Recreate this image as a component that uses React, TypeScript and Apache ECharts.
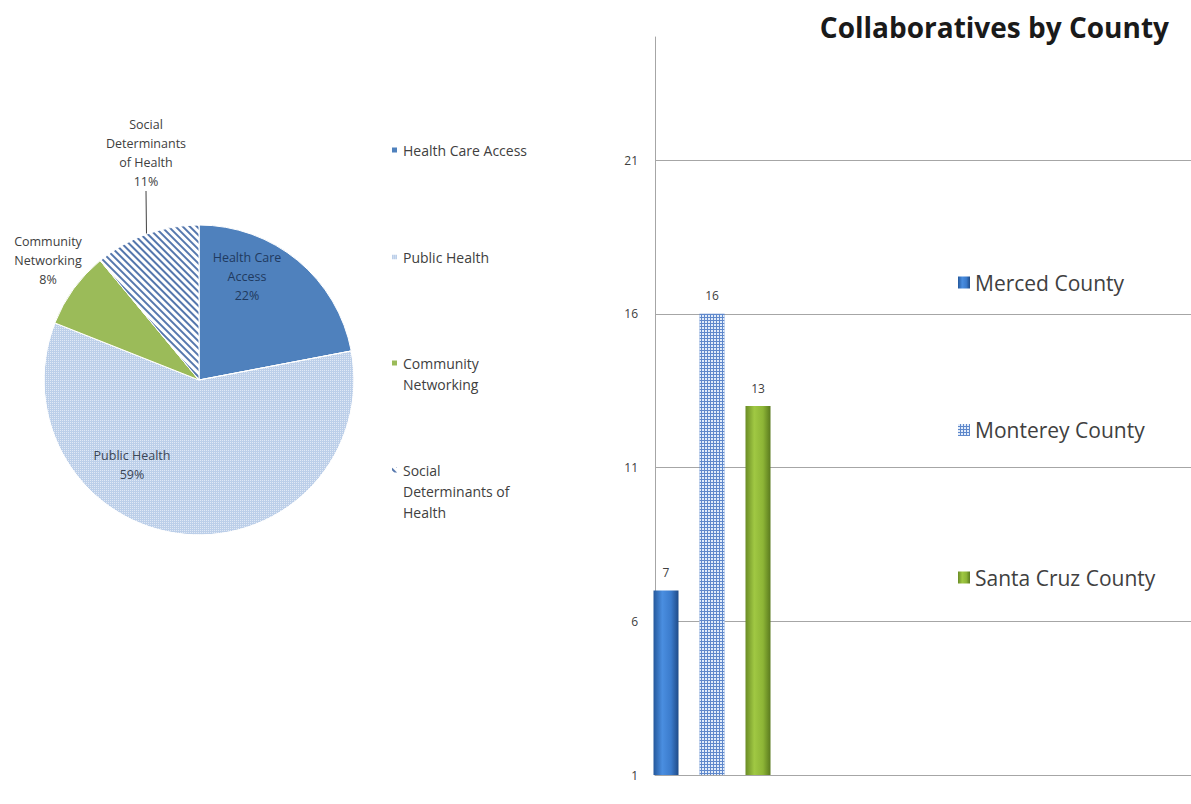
import React, { useEffect, useRef } from "react";
import * as echarts from "echarts";

const pieNames = ["Health Care Access", "Public Health", "Community Networking", "Social Determinants of Health"];
const pieValues = [22, 59, 8, 11];
const pieLabelNames = ["Health Care\nAccess", "Public Health", "Community\nNetworking", "Social\nDeterminants\nof Health"];
const pieLegendNames = ["Health Care Access", "Public Health", "\nCommunity\nNetworking", "\n\nSocial\nDeterminants of\nHealth"];

const countyNames = ["Merced County", "Monterey County", "Santa Cruz County"];
const countyValues = [7, 16, 13];
const axisBase = 1; // value axis starts at 1
const axisTop = 25;
const axisStep = 5;

const FONT = "'Open Sans', 'Liberation Sans', sans-serif";

// label anchor positions (text placement only)
const pieLabelPos: [number, number][] = [
  [247, 276],
  [132, 465],
  [48, 260],
  [146, 153],
];
const pieLabelPositionKind = ["inside", "inside", "inside", "outside"];
const pieLegendTops = [139.5, 246.5, 331.5, 417.5];

export default function App() {
  const ref = useRef<HTMLDivElement>(null);
  useEffect(() => {
    if (!ref.current) return;
    const chart = echarts.init(ref.current, undefined, { renderer: "svg" });

    const pieColors = [
      { color: "#4f81bd" },
      {
        color: "#bccfe9",
        decal: { symbol: "rect", symbolSize: 1, dashArrayX: [1, 1], dashArrayY: [1, 1], color: "rgba(255,255,255,0.55)" },
      },
      { color: "#9bbb59" },
      {
        color: "#ffffff",
        decal: { symbol: "rect", symbolSize: 1, dashArrayX: [1, 0], dashArrayY: [2, 3], rotation: Math.PI / 4, color: "#5577ad" },
      },
    ];
    const pieLabelColors = ["#1f3a60", "#3a4656", "#404040", "#404040"];

    const barStyles = [
      {
        color: new echarts.graphic.LinearGradient(0, 0, 1, 0, [
          { offset: 0, color: "#24589c" },
          { offset: 0.35, color: "#4a8ee0" },
          { offset: 0.7, color: "#3b7bcc" },
          { offset: 1, color: "#1f4b88" },
        ]),
      },
      {
        color: "#5f88cb",
        decal: { symbol: "rect", symbolSize: 1, dashArrayX: [2, 1], dashArrayY: [2, 1], color: "#e2ecfa" },
      },
      {
        color: new echarts.graphic.LinearGradient(0, 0, 1, 0, [
          { offset: 0, color: "#6a8c25" },
          { offset: 0.35, color: "#a0c843" },
          { offset: 0.7, color: "#8db536" },
          { offset: 1, color: "#5a7a1e" },
        ]),
      },
    ];

    const pieLegends = pieNames.map((n, i) => ({
      data: [n],
      orient: "vertical",
      left: 390,
      top: pieLegendTops[i],
      padding: 0,
      icon: "rect",
      itemWidth: 7,
      itemHeight: 7,
      selectedMode: false,
      formatter: () => pieLegendNames[i],
      textStyle: { fontFamily: FONT, fontSize: 14, color: "#404040", lineHeight: 21 },
    }));

    const option: any = {
      animation: false,
      backgroundColor: "#ffffff",
      title: {
        text: "Collaboratives by County",
        right: 17,
        top: 8,
        textStyle: { fontFamily: FONT, fontSize: 28, fontWeight: "bold", color: "#1a1a1a" },
      },
      legend: [
        ...pieLegends,
        {
          data: countyNames,
          orient: "vertical",
          left: 958,
          top: 269,
          padding: 0,
          icon: "rect",
          itemWidth: 12,
          itemHeight: 12,
          itemGap: 120.5,
          selectedMode: false,
          textStyle: { fontFamily: FONT, fontSize: 21, color: "#404040", lineHeight: 27 },
        },
      ],
      grid: [
        { left: 655, right: 0, top: 37, bottom: 29, containLabel: false },
        { left: 652, width: 120, top: 37, bottom: 29, containLabel: false },
      ],
      xAxis: [
        {
          type: "category",
          gridIndex: 0,
          data: [""],
          axisLine: { show: true, lineStyle: { color: "#a6a6a6", width: 1 } },
          axisTick: { show: false },
          axisLabel: { show: false },
        },
        {
          type: "category",
          gridIndex: 1,
          data: ["Collaboratives"],
          show: false,
        },
      ],
      yAxis: [
        {
          type: "value",
          gridIndex: 0,
          min: 0,
          max: axisTop - axisBase,
          interval: axisStep,
          axisLine: { show: true, lineStyle: { color: "#a6a6a6", width: 1 } },
          axisTick: { show: false },
          axisLabel: {
            fontFamily: FONT,
            fontSize: 12,
            color: "#404040",
            margin: 17,
            showMaxLabel: false,
            formatter: (v: number) => String(v + axisBase),
          },
          splitLine: { show: true, showMinLine: false, showMaxLine: false, lineStyle: { color: "#a6a6a6", width: 1 } },
        },
        {
          type: "value",
          gridIndex: 1,
          min: 0,
          max: axisTop - axisBase,
          interval: axisStep,
          show: false,
          splitLine: { show: false },
        },
      ],
      series: [
        {
          type: "pie",
          center: [199, 380],
          radius: 155,
          startAngle: 90,
          clockwise: true,
          data: pieNames.map((n, i) => ({
            name: n,
            value: pieValues[i],
            itemStyle: { ...pieColors[i], borderColor: "#ffffff", borderWidth: 1 },
            label: { color: pieLabelColors[i], position: pieLabelPositionKind[i] },
            labelLine: { show: i === 3, length: 10, length2: 0, lineStyle: { color: "#404040", width: 1 } },
          })),
          label: {
            show: true,
            fontFamily: FONT,
            fontSize: 12.5,
            lineHeight: 19,
            align: "center",
            overflow: "none",
            formatter: (p: any) => pieLabelNames[p.dataIndex] + "\n" + p.percent + "%",
          },
          labelLayout: (p: any) => ({
            x: pieLabelPos[p.dataIndex][0],
            y: pieLabelPos[p.dataIndex][1],
            align: "center",
            verticalAlign: "middle",
          }),
        },
        ...countyNames.map((n, i) => ({
          type: "bar",
          name: n,
          xAxisIndex: 1,
          yAxisIndex: 1,
          barWidth: 25,
          barGap: "84%",
          itemStyle: barStyles[i],
          data: [
            {
              value: countyValues[i] - axisBase,
              label: {
                show: true,
                position: "top",
                distance: 12,
                fontFamily: FONT,
                fontSize: 12,
                color: "#404040",
                formatter: () => String(countyValues[i]),
              },
            },
          ],
        })),
      ],
    };

    chart.setOption(option);
    return () => chart.dispose();
  }, []);

  return (
    <div
      ref={ref}
      style={{ position: "fixed", left: 0, top: 0, width: 1191, height: 804, background: "#fff" }}
    />
  );
}
